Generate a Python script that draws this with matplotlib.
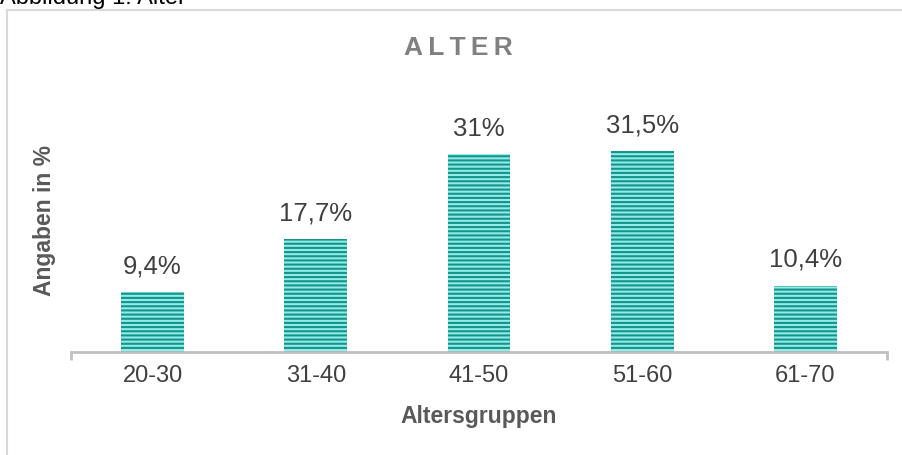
import matplotlib
matplotlib.use("Agg")
import matplotlib.pyplot as plt
from matplotlib.lines import Line2D

# Altersverteilung der Befragten
gruppen = ["20-30", "31-40", "41-50", "51-60", "61-70"]
anteile = [9.4, 17.7, 31.0, 31.5, 10.4]
beschriftung = ["9,4%", "17,7%", "31%", "31,5%", "10,4%"]

plt.rcParams["font.family"] = ["Liberation Sans", "DejaVu Sans"]
plt.rcParams["hatch.linewidth"] = 1.5

W, H = 903, 455
fig = plt.figure(figsize=(W / 100, H / 100), dpi=100)

# Plotbereich in Pixeln: links 71, rechts 887, Grundlinie 352, oben 129
ax = fig.add_axes([71 / W, (H - 352) / H, 816 / W, 223 / H])

x = range(len(gruppen))
bars = ax.bar(x, anteile, width=0.385, color="#93ebe6", edgecolor="#13958e",
              linewidth=0, hatch="----")

for xi, val, txt in zip(x, anteile, beschriftung):
    ax.annotate(txt, (xi, val), xytext=(0, 10), textcoords="offset points",
                ha="center", va="bottom", fontsize=18.5, color="#404040",
                clip_on=False)

ax.set_xlim(-0.5, len(gruppen) - 0.5)
ax.set_ylim(0, 35)

for side in ("top", "right", "left"):
    ax.spines[side].set_visible(False)
ax.spines["bottom"].set_color("#c0c0c0")
ax.spines["bottom"].set_linewidth(2)
ax.set_yticks([])

ax.set_xticks(list(x))
ax.set_xticklabels(gruppen, fontsize=17, color="#404040")
ax.tick_params(axis="x", which="major", length=0, pad=9)
ax.set_xticks([-0.5, len(gruppen) - 0.5], minor=True)
ax.tick_params(axis="x", which="minor", length=6, width=2, color="#c0c0c0",
               direction="out")

# Achsentitel und Überschrift
fig.text(479 / W, 1 - 417 / H, "Altersgruppen", ha="center", va="center",
         fontsize=16.5, fontweight="bold", color="#595959")
fig.text(45 / W, 1 - 221 / H, "Angaben in %", ha="center", va="center",
         rotation=90, fontsize=16.5, fontweight="bold", color="#595959")
fig.text(458 / W, 1 - 48 / H, "A\u2009L\u2009T\u2009E\u2009R", ha="center",
         va="center", fontsize=19, fontweight="bold", color="#808080")

fig.text(0, 1 - 4 / H, "Abbildung 1: Alter", ha="left", va="baseline",
         fontsize=17, color="#000000")

# Rahmen des Diagrammbereichs
frame = "#d9d9d9"
fig.add_artist(Line2D([7 / W, 7 / W], [0, 1 - 10 / H], color=frame, lw=1.5,
                      transform=fig.transFigure))
fig.add_artist(Line2D([7 / W, 1], [1 - 10 / H, 1 - 10 / H], color=frame, lw=1.5,
                      transform=fig.transFigure))

fig.savefig("out.png", dpi=100)
